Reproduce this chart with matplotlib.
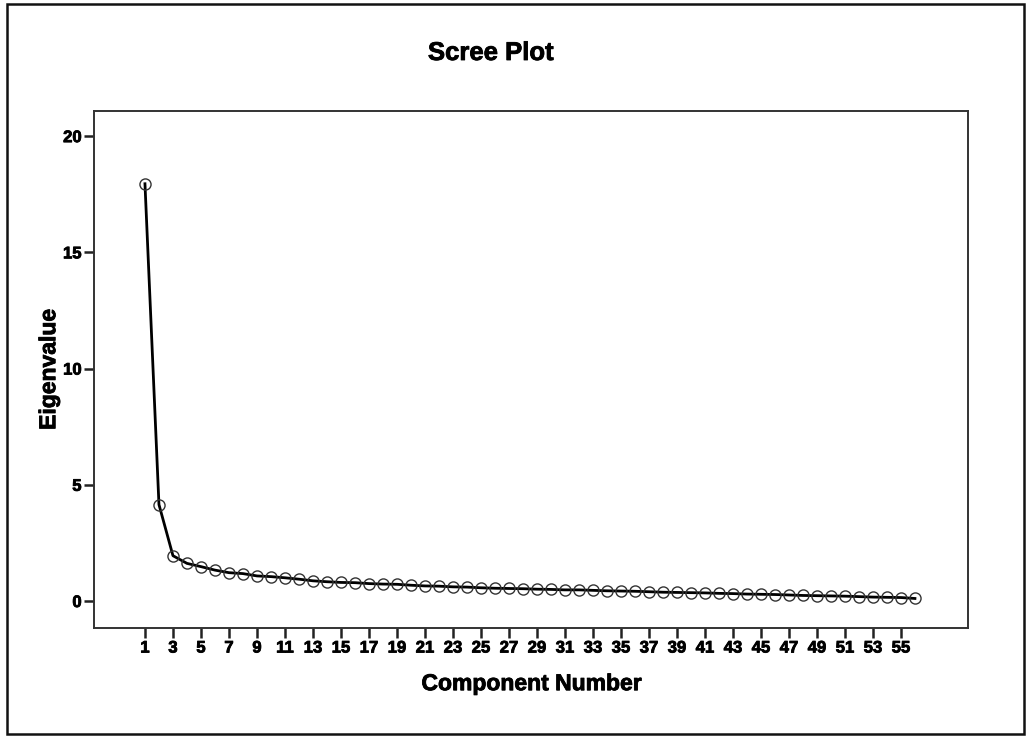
import matplotlib
matplotlib.use("Agg")
import matplotlib.pyplot as plt
from matplotlib.patches import Rectangle
import matplotlib.patheffects as pe

# Data
components = list(range(1, 57))
eigenvalues = [17.95, 4.15, 1.95, 1.62, 1.48, 1.33, 1.22, 1.18, 1.08, 1.05,
               1.00, 0.94, 0.87, 0.83, 0.80, 0.79, 0.75, 0.73, 0.72, 0.68,
               0.65, 0.64, 0.61, 0.60, 0.57, 0.55, 0.54, 0.53, 0.51, 0.50,
               0.48, 0.48, 0.46, 0.44, 0.43, 0.42, 0.40, 0.38, 0.37, 0.36,
               0.35, 0.33, 0.32, 0.30, 0.29, 0.28, 0.26, 0.24, 0.23, 0.22,
               0.21, 0.19, 0.17, 0.16, 0.15, 0.11]
x_ticks = list(range(1, 56, 2))
y_ticks = [0, 5, 10, 15, 20]
title = "Scree Plot"
x_label = "Component Number"
y_label = "Eigenvalue"

plt.rcParams['font.family'] = ['Liberation Sans', 'DejaVu Sans']

W, H = 1026, 736
fig = plt.figure(figsize=(W / 100, H / 100), dpi=100)
fig.patch.set_facecolor('white')

heavy = [pe.withStroke(linewidth=0.6, foreground='black')]

# outer frame
fig.add_artist(Rectangle((7 / W, 1 - 734 / H), (1024 - 7) / W, (734 - 4) / H,
                         transform=fig.transFigure, fill=False,
                         edgecolor='#111111', linewidth=1.8))

left, right, top, bottom = 94, 968, 111, 628
ax = fig.add_axes([left / W, 1 - bottom / H, (right - left) / W, (bottom - top) / H])

ax.plot(components, eigenvalues, color='black', linewidth=2.0, zorder=2)
ax.plot(components, eigenvalues, linestyle='none', marker='o', markersize=8,
        markerfacecolor='none', markeredgecolor='#333333', markeredgewidth=1.0,
        zorder=3)

ax.set_xlim(-2.64, 59.79)
ax.set_ylim(-1.16, 21.08)
ax.set_xticks(x_ticks)
ax.set_xticklabels([str(t) for t in x_ticks])
ax.set_yticks(y_ticks)
ax.set_yticklabels([str(t) for t in y_ticks])

for s in ax.spines.values():
    s.set_linewidth(1.4)
    s.set_color('#333333')

ax.tick_params(axis='both', direction='out', length=7, width=1.8, color='#222222',
               labelsize=12, pad=2)
for lbl in ax.get_xticklabels() + ax.get_yticklabels():
    lbl.set_fontweight('bold')
    lbl.set_path_effects(heavy)

ax.set_xlabel(x_label, fontsize=16.5, fontweight='bold', labelpad=12,
              path_effects=heavy)
ax.set_ylabel(y_label, fontsize=16.5, fontweight='bold', labelpad=2,
              path_effects=heavy)

fig.text(491 / W, 1 - 53 / H, title, fontsize=18.5, fontweight='bold',
         ha='center', va='center', path_effects=heavy)

fig.savefig("out.png", dpi=100, facecolor='white')
